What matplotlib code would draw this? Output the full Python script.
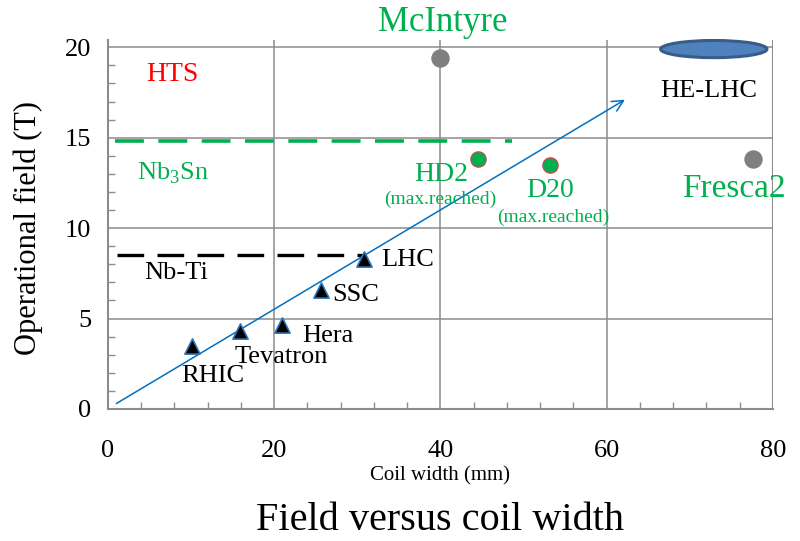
import matplotlib
matplotlib.use("Agg")
import matplotlib.pyplot as plt
from matplotlib.patches import Ellipse
from matplotlib.ticker import MultipleLocator

plt.rcParams["font.family"] = ["Liberation Serif", "DejaVu Serif"]
plt.rcParams["mathtext.fontset"] = "custom"
plt.rcParams["mathtext.rm"] = "Liberation Serif"

# Nb-Ti accelerator dipoles (coil width mm, operational field T)
nbti_names = ["RHIC", "Tevatron", "Hera", "SSC", "LHC"]
nbti_width = [10.1, 15.9, 20.9, 25.6, 30.8]
nbti_field = [3.5, 4.3, 4.65, 6.6, 8.3]

# Nb3Sn model magnets, maximum field reached
nb3sn_names = ["HD2", "D20"]
nb3sn_width = [44.5, 53.2]
nb3sn_field = [13.8, 13.5]

# Design studies
design_names = ["McIntyre", "Fresca2"]
design_width = [40.0, 77.6]
design_field = [19.4, 13.8]

# HE-LHC target region (centre, extent)
helhc_center = (72.9, 19.9)
helhc_extent = (12.8, 0.95)

# Practical limits of each conductor
nbti_limit = 8.5
nb3sn_limit = 14.8

# Trend arrow end points
trend_start = (1.0, 0.3)
trend_end = (62.2, 17.1)

green = "#00B050"
grid_grey = "#8C8C8C"

fig = plt.figure(figsize=(8.0, 5.41), dpi=100)
ax = fig.add_axes([0.135, 0.244, 0.831, 0.682])
ax.set_xlim(0, 80)
ax.set_ylim(0, 20.4)

ax.xaxis.set_major_locator(MultipleLocator(20))
ax.xaxis.set_minor_locator(MultipleLocator(4))
ax.yaxis.set_major_locator(MultipleLocator(5))
ax.yaxis.set_minor_locator(MultipleLocator(1))
ax.grid(True, which="major", color=grid_grey, linewidth=1.1, zorder=0)
ax.tick_params(which="both", direction="in", color=grid_grey, width=1.0)
ax.tick_params(which="major", length=0)
ax.tick_params(which="minor", length=5)
ax.tick_params(axis="x", which="major", labelsize=19, pad=22)
ax.tick_params(axis="y", which="major", labelsize=19, pad=12)
for side in ("top", "right"):
    ax.spines[side].set_visible(False)
for side in ("left", "bottom"):
    ax.spines[side].set_color(grid_grey)
    ax.spines[side].set_linewidth(1.5)
ax.axvline(80, color=grid_grey, linewidth=1.5, zorder=0)
ax.set_axisbelow(True)

# conductor limits
ax.plot([0.85, 48.6], [nb3sn_limit] * 2, color=green, linewidth=2.6,
        dashes=(8, 4), zorder=2)
ax.plot([1.1, 30.9], [nbti_limit] * 2, color="black", linewidth=2.4,
        dashes=(8, 4), zorder=2)

# trend arrow
ax.annotate("", xy=trend_end, xytext=trend_start,
            arrowprops=dict(arrowstyle="->", color="#0070C0", lw=1.1,
                            mutation_scale=20, shrinkA=0, shrinkB=0),
            zorder=3)

# markers
ax.scatter(nbti_width, nbti_field, marker="^", s=120, color="black",
           edgecolors="#2E75B6", linewidths=1.2, zorder=4)
ax.scatter(nb3sn_width, nb3sn_field, marker="o", s=120, color=green,
           edgecolors="#C0504D", linewidths=1.0, zorder=4)
ax.scatter(design_width, design_field, marker="o", s=150, color="#7F7F7F",
           edgecolors="#7F7F7F", zorder=4)
ax.add_patch(Ellipse(helhc_center, helhc_extent[0], helhc_extent[1],
                     facecolor="#4F81BD", edgecolor="#385D8A", linewidth=2.2,
                     zorder=5, clip_on=False))

# point labels
nbti_offsets = [(2.5, -1.7), (5.0, -1.4), (5.5, -0.6), (4.2, -0.3), (5.3, -0.05)]
for name, x, y, (dx, dy) in zip(nbti_names, nbti_width, nbti_field, nbti_offsets):
    ax.text(x + dx, y + dy, name, fontsize=19, ha="center", va="center")

ax.text(7.8, 18.5, "HTS", color="red", fontsize=20, ha="center", va="center")
ax.text(7.8, 13.05, r"Nb$_3$Sn", color=green, fontsize=19, ha="center", va="center")
ax.text(8.2, 7.54, "Nb-Ti", color="black", fontsize=19, ha="center", va="center")
ax.text(72.3, 17.6, "HE-LHC", color="black", fontsize=19, ha="center", va="center")

ax.text(40.3, 21.35, "McIntyre", color=green, fontsize=25, ha="center",
        va="center", clip_on=False)
ax.text(75.3, 12.15, "Fresca2", color=green, fontsize=24, ha="center",
        va="center", clip_on=False)

ax.text(40.1, 12.95, "HD2", color=green, fontsize=20, ha="center", va="center")
ax.text(40.0, 11.57, "(max.reached)", color=green, fontsize=14,
        ha="center", va="center")
ax.text(53.2, 12.1, "D20", color=green, fontsize=20, ha="center", va="center")
ax.text(53.6, 10.6, "(max.reached)", color=green, fontsize=14,
        ha="center", va="center")

ax.set_xlabel("Coil width (mm)", fontsize=15)
ax.xaxis.set_label_coords(0.5, -0.155)
ax.set_ylabel("Operational field (T)", fontsize=22)
ax.yaxis.set_label_coords(-0.098, 0.49)

fig.text(0.55, 0.037, "Field versus coil width", fontsize=29,
         ha="center", va="center")

fig.savefig("out.png", dpi=100)
